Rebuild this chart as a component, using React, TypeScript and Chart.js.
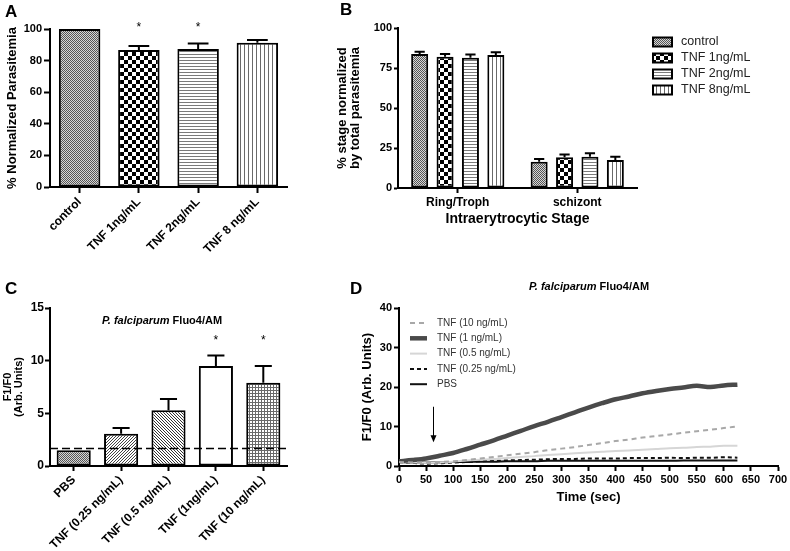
import React, { useEffect, useRef } from 'react';
import { Chart, registerables } from 'chart.js';

Chart.register(...registerables);

const FONT = "'Liberation Sans', Arial, Helvetica, sans-serif";
Chart.defaults.font.family = FONT;
const PAGE_W = 790;
const PAGE_H = 551;

// ---------- Panel A ----------
const parasitemiaCategories = ['control', 'TNF 1ng/mL', 'TNF 2ng/mL', 'TNF 8 ng/mL'];
const parasitemiaValues = [100, 86.7, 87.3, 91.3];
const parasitemiaErrors = [0, 2.5, 3.5, 1.7];
const parasitemiaStars = ['', '*', '*', ''];
const parasitemiaTicks = [0, 20, 40, 60, 80, 100];

// ---------- Panel B ----------
const stageCategories = ['Ring/Troph', 'schizont'];
const stageSeriesLabels = ['control', 'TNF 1ng/mL', 'TNF 2ng/mL', 'TNF 8ng/mL'];
const stageControl = [83.7, 16.4];
const stageTnf1 = [82.0, 19.2];
const stageTnf2 = [81.4, 19.6];
const stageTnf8 = [83.1, 17.5];
const stageControlErr = [1.5, 1.7];
const stageTnf1Err = [1.7, 1.8];
const stageTnf2Err = [2.1, 2.1];
const stageTnf8Err = [1.7, 2.1];
const stageTicks = [0, 25, 50, 75, 100];

// ---------- Panel C ----------
const fluoCategories = ['PBS', 'TNF (0.25 ng/mL)', 'TNF (0.5 ng/mL)', 'TNF (1ng/mL)', 'TNF (10 ng/mL)'];
const fluoValues = [1.5, 3.05, 5.3, 9.5, 7.9];
const fluoErrors = [0, 0.55, 1.05, 1.0, 1.6];
const fluoStars = ['', '', '', '*', '*'];
const fluoBaseline = 1.65;
const fluoTicks = [0, 5, 10, 15];

// ---------- Panel D ----------
const timeSec = [0, 25, 50, 75, 100, 125, 150, 175, 200, 225, 250, 275, 300, 325, 350, 375, 400, 425, 450, 475, 500, 525, 550, 575, 600, 625];
const traceTnf10 = [1.0, 0.9, 0.9, 1.0, 1.2, 1.5, 1.9, 2.3, 2.7, 3.1, 3.5, 4.0, 4.4, 4.8, 5.3, 5.8, 6.3, 6.7, 7.2, 7.6, 8.0, 8.4, 8.8, 9.2, 9.6, 10.0];
const traceTnf1 = [1.2, 1.5, 1.9, 2.6, 3.3, 4.3, 5.4, 6.5, 7.7, 8.9, 10.1, 11.2, 12.4, 13.6, 14.8, 15.9, 16.9, 17.6, 18.4, 19.0, 19.5, 19.9, 20.3, 20.0, 20.4, 20.6];
const traceTnf05 = [1.0, 0.9, 0.8, 0.9, 1.1, 1.4, 1.6, 1.8, 2.0, 2.3, 2.5, 2.8, 3.0, 3.2, 3.4, 3.6, 3.8, 3.9, 4.1, 4.3, 4.5, 4.6, 4.8, 4.9, 5.1, 5.1];
const traceTnf025 = [1.0, 0.8, 0.6, 0.7, 0.9, 1.0, 1.2, 1.3, 1.4, 1.5, 1.6, 1.7, 1.8, 1.8, 1.9, 1.9, 1.9, 2.0, 2.0, 2.0, 2.1, 2.0, 2.1, 2.1, 2.2, 2.1];
const tracePbs = [1.0, 0.9, 0.9, 0.9, 1.0, 1.0, 1.1, 1.1, 1.2, 1.2, 1.2, 1.3, 1.3, 1.3, 1.3, 1.3, 1.3, 1.3, 1.3, 1.3, 1.3, 1.4, 1.4, 1.4, 1.4, 1.4];
const traceLabels = ['TNF (10 ng/mL)', 'TNF (1 ng/mL)', 'TNF (0.5 ng/mL)', 'TNF (0.25 ng/mL)', 'PBS'];
const traceTicksY = [0, 10, 20, 30, 40];
const traceTicksX = [0, 50, 100, 150, 200, 250, 300, 350, 400, 450, 500, 550, 600, 650, 700];
const additionTime = 63;
const additionArrow = [15, 6];

// ---------- helpers ----------
function pattern(kind: string, size = 4): CanvasPattern {
  const c = document.createElement('canvas');
  const g = c.getContext('2d')!;
  const dot = (x: number, y: number, w = 1, h = 1) => g.fillRect(x, y, w, h);
  if (kind === 'fine') {
    c.width = 2; c.height = 2;
    g.fillStyle = '#d6d6d6'; g.fillRect(0, 0, 2, 2);
    g.fillStyle = '#555555'; dot(0, 0); dot(1, 1);
  } else if (kind === 'checker') {
    c.width = size * 2; c.height = size * 2;
    g.fillStyle = '#fff'; g.fillRect(0, 0, size * 2, size * 2);
    g.fillStyle = '#000'; dot(0, 0, size, size); dot(size, size, size, size);
  } else if (kind === 'hlines') {
    c.width = 1; c.height = size;
    g.fillStyle = '#fff'; g.fillRect(0, 0, 1, size);
    g.fillStyle = '#7a7a7a'; dot(0, 0);
  } else if (kind === 'vlines') {
    c.width = size; c.height = 1;
    g.fillStyle = '#fff'; g.fillRect(0, 0, size, 1);
    g.fillStyle = '#6a6a6a'; dot(0, 0);
  } else if (kind === 'diagUp') {
    c.width = size; c.height = size;
    g.fillStyle = '#fff'; g.fillRect(0, 0, size, size);
    g.fillStyle = '#444';
    for (let i = 0; i < size; i++) dot(i, size - 1 - i);
  } else if (kind === 'diagDown') {
    c.width = size; c.height = size;
    g.fillStyle = '#fff'; g.fillRect(0, 0, size, size);
    g.fillStyle = '#333';
    for (let i = 0; i < size; i++) dot(i, i);
  } else if (kind === 'grid') {
    c.width = size; c.height = size;
    g.fillStyle = '#fff'; g.fillRect(0, 0, size, size);
    g.fillStyle = '#6a6a6a'; dot(0, 0, size, 1); dot(0, 0, 1, size);
  } else {
    c.width = 1; c.height = 1;
    g.fillStyle = '#fff'; g.fillRect(0, 0, 1, 1);
  }
  return g.createPattern(c, 'repeat')!;
}

const fixedX = (height: number) => (s: any) => {
  s.height = height; s.paddingLeft = 0; s.paddingRight = 0; s.paddingTop = 0; s.paddingBottom = 0;
};
const fixedY = (width: number) => (s: any) => {
  s.width = width; s.paddingLeft = 0; s.paddingRight = 0; s.paddingTop = 0; s.paddingBottom = 0;
};
const setTicks = (values: number[]) => (s: any) => {
  s.ticks = values.map((v) => ({ value: v }));
};

function axisStyle(fontSize: number, tickLength: number, padding: number) {
  return {
    border: { display: true, color: '#000', width: 2 },
    grid: { display: true, drawOnChartArea: false, drawTicks: true, tickLength, tickWidth: 2, tickColor: '#000', color: '#000', offset: false },
    ticks: { color: '#000', font: { family: FONT, size: fontSize, weight: 'bold' as const }, padding, autoSkip: false },
  };
}

const errorBarsPlugin = (capRatio: number) => ({
  id: 'errorBars',
  afterDatasetsDraw(chart: any) {
    const ctx = chart.ctx;
    const yScale = chart.scales.y;
    chart.data.datasets.forEach((ds: any, i: number) => {
      if (!ds.errors) return;
      const meta = chart.getDatasetMeta(i);
      meta.data.forEach((el: any, j: number) => {
        const err = ds.errors[j];
        if (!err) return;
        const v = ds.data[j];
        const yTop = yScale.getPixelForValue(v + err);
        const half = el.width * capRatio;
        ctx.save();
        ctx.strokeStyle = '#000';
        ctx.lineWidth = 2;
        ctx.beginPath();
        ctx.moveTo(el.x, el.y);
        ctx.lineTo(el.x, yTop);
        ctx.moveTo(el.x - half, yTop);
        ctx.lineTo(el.x + half, yTop);
        ctx.stroke();
        ctx.restore();
      });
    });
  },
});

const starsPlugin = (value: number, fontSize: number) => ({
  id: 'stars',
  afterDatasetsDraw(chart: any) {
    const ctx = chart.ctx;
    const y = chart.scales.y.getPixelForValue(value);
    chart.data.datasets.forEach((ds: any, i: number) => {
      if (!ds.stars) return;
      const meta = chart.getDatasetMeta(i);
      meta.data.forEach((el: any, j: number) => {
        const s = ds.stars[j];
        if (!s) return;
        ctx.save();
        ctx.fillStyle = '#000';
        ctx.font = `${fontSize}px ${FONT}`;
        ctx.textAlign = 'center';
        ctx.textBaseline = 'alphabetic';
        ctx.fillText(s, el.x, y + fontSize * 0.55);
        ctx.restore();
      });
    });
  },
});

const refLinePlugin = (value: number) => ({
  id: 'refLine',
  afterDatasetsDraw(chart: any) {
    const ctx = chart.ctx;
    const y = chart.scales.y.getPixelForValue(value);
    const { left, right } = chart.chartArea;
    ctx.save();
    ctx.strokeStyle = '#000';
    ctx.lineWidth = 1.5;
    ctx.setLineDash([8, 4]);
    ctx.beginPath();
    ctx.moveTo(left, y);
    ctx.lineTo(right, y);
    ctx.stroke();
    ctx.restore();
  },
});

const titlePlugin = (parts: { text: string; font: string }[], cx: number, cy: number) => ({
  id: 'mixedTitle',
  afterDraw(chart: any) {
    const ctx = chart.ctx;
    ctx.save();
    ctx.fillStyle = '#000';
    ctx.textBaseline = 'middle';
    ctx.textAlign = 'left';
    const widths = parts.map((p) => { ctx.font = p.font; return ctx.measureText(p.text).width; });
    let x = cx - widths.reduce((a, b) => a + b, 0) / 2;
    parts.forEach((p, i) => { ctx.font = p.font; ctx.fillText(p.text, x, cy); x += widths[i]; });
    ctx.restore();
  },
});

const boxLegendPlugin = (x: number, y0: number, dy: number, textX: number) => ({
  id: 'boxLegend',
  afterDraw(chart: any) {
    const ctx = chart.ctx;
    chart.data.datasets.forEach((ds: any, i: number) => {
      const y = y0 + i * dy;
      ctx.save();
      ctx.fillStyle = ds.backgroundColor;
      ctx.fillRect(x, y - 4.5, 19, 9);
      ctx.strokeStyle = '#000';
      ctx.lineWidth = 2;
      ctx.strokeRect(x, y - 4.5, 19, 9);
      ctx.fillStyle = '#222';
      ctx.font = `12.5px ${FONT}`;
      ctx.textBaseline = 'middle';
      ctx.fillText(ds.label, textX, y);
      ctx.restore();
    });
  },
});

const lineLegendPlugin = (x: number, len: number, y0: number, dy: number, textX: number) => ({
  id: 'lineLegend',
  afterDraw(chart: any) {
    const ctx = chart.ctx;
    chart.data.datasets.forEach((ds: any, i: number) => {
      const y = y0 + i * dy;
      ctx.save();
      ctx.strokeStyle = ds.borderColor;
      ctx.lineWidth = ds.borderWidth;
      ctx.setLineDash(ds.borderDash || []);
      ctx.beginPath();
      ctx.moveTo(x, y);
      ctx.lineTo(x + len, y);
      ctx.stroke();
      ctx.setLineDash([]);
      ctx.fillStyle = '#333';
      ctx.font = `10px ${FONT}`;
      ctx.textBaseline = 'middle';
      ctx.fillText(ds.label, textX, y);
      ctx.restore();
    });
  },
});

const arrowPlugin = (xVal: number, fromVal: number, toVal: number) => ({
  id: 'arrow',
  afterDatasetsDraw(chart: any) {
    const ctx = chart.ctx;
    const x = Math.round(chart.scales.x.getPixelForValue(xVal)) + 0.5;
    const y1 = chart.scales.y.getPixelForValue(fromVal);
    const y2 = chart.scales.y.getPixelForValue(toVal);
    ctx.save();
    ctx.strokeStyle = '#000';
    ctx.fillStyle = '#000';
    ctx.lineWidth = 1;
    ctx.beginPath();
    ctx.moveTo(x, y1);
    ctx.lineTo(x, y2 - 5);
    ctx.stroke();
    ctx.beginPath();
    ctx.moveTo(x - 3, y2 - 7);
    ctx.lineTo(x + 3, y2 - 7);
    ctx.lineTo(x, y2);
    ctx.closePath();
    ctx.fill();
    ctx.restore();
  },
});

const baseOptions = (padding: any) => ({
  responsive: false,
  animation: false as const,
  events: [] as any[],
  layout: { padding },
  plugins: { legend: { display: false }, tooltip: { enabled: false }, title: { display: false } },
});

export default function App() {
  const refA = useRef<HTMLCanvasElement>(null);
  const refB = useRef<HTMLCanvasElement>(null);
  const refC = useRef<HTMLCanvasElement>(null);
  const refD = useRef<HTMLCanvasElement>(null);

  useEffect(() => {
    const charts: Chart[] = [];

    // Panel A
    charts.push(new Chart(refA.current!, {
      type: 'bar',
      data: {
        labels: parasitemiaCategories,
        datasets: [{
          data: parasitemiaValues,
          errors: parasitemiaErrors,
          stars: parasitemiaStars,
          backgroundColor: [pattern('fine'), pattern('checker', 4), pattern('hlines', 3), pattern('vlines', 4)],
          borderColor: '#000',
          borderWidth: 2,
          borderSkipped: false,
          barPercentage: 0.7,
          categoryPercentage: 1,
        } as any],
      },
      options: {
        ...baseOptions({ left: 5, top: 29, right: PAGE_W - 287, bottom: PAGE_H - 187 - 70 }),
        scales: {
          x: {
            ...axisStyle(12, 6, 2),
            ticks: { ...axisStyle(12, 6, 2).ticks, maxRotation: 45, minRotation: 45 },
            afterFit: fixedX(70),
          },
          y: {
            ...axisStyle(11, 6, 2),
            min: 0, max: 100,
            afterBuildTicks: setTicks(parasitemiaTicks),
            afterFit: fixedY(45),
            title: { display: true, text: '% Normalized Parasitemia', color: '#000', padding: 0, font: { family: FONT, size: 13, weight: 'bold' } },
          },
        },
      } as any,
      plugins: [errorBarsPlugin(0.25), starsPlugin(103, 12)],
    }));

    // Panel B
    const stageData = [stageControl, stageTnf1, stageTnf2, stageTnf8];
    const stageErr = [stageControlErr, stageTnf1Err, stageTnf2Err, stageTnf8Err];
    const stagePatterns = [pattern('fine'), pattern('checker', 4), pattern('hlines', 3), pattern('vlines', 4)];
    charts.push(new Chart(refB.current!, {
      type: 'bar',
      data: {
        labels: stageCategories,
        datasets: stageSeriesLabels.map((label, i) => ({
          label,
          data: stageData[i],
          errors: stageErr[i],
          backgroundColor: stagePatterns[i],
          borderColor: '#000',
          borderWidth: 2,
          borderSkipped: false,
          barPercentage: 0.67,
          categoryPercentage: 0.85,
        })) as any,
      },
      options: {
        ...baseOptions({ left: 336, top: 28, right: PAGE_W - 637, bottom: PAGE_H - 188 - 40 }),
        scales: {
          x: {
            ...axisStyle(12, 5, 2),
            afterFit: fixedX(40),
            title: { display: true, text: 'Intraerytrocytic Stage', color: '#000', padding: 0, font: { family: FONT, size: 14, weight: 'bold' } },
          },
          y: {
            ...axisStyle(11, 4, 2),
            min: 0, max: 100,
            afterBuildTicks: setTicks(stageTicks),
            afterFit: fixedY(62),
            title: { display: true, text: ['% stage normalized', 'by total parasitemia'], color: '#000', padding: 0, font: { family: FONT, size: 13, weight: 'bold', lineHeight: 1.0 } },
          },
        },
      } as any,
      plugins: [errorBarsPlugin(0.3), boxLegendPlugin(653, 42, 16, 681)],
    }));

    // Panel C
    charts.push(new Chart(refC.current!, {
      type: 'bar',
      data: {
        labels: fluoCategories,
        datasets: [{
          data: fluoValues,
          errors: fluoErrors,
          stars: fluoStars,
          backgroundColor: [pattern('fine'), pattern('diagUp', 3), pattern('diagDown', 3), pattern('none'), pattern('grid', 3)],
          borderColor: '#000',
          borderWidth: 2,
          borderSkipped: false,
          barPercentage: 0.72,
          categoryPercentage: 1,
        } as any],
      },
      options: {
        ...baseOptions({ left: 2, top: 308, right: PAGE_W - 287, bottom: 0 }),
        scales: {
          x: {
            ...axisStyle(12, 5, 2),
            ticks: { ...axisStyle(12, 5, 2).ticks, maxRotation: 45, minRotation: 45 },
            afterFit: fixedX(PAGE_H - 466),
          },
          y: {
            ...axisStyle(12, 5, 1),
            min: 0, max: 15,
            afterBuildTicks: setTicks(fluoTicks),
            afterFit: fixedY(48),
            title: { display: true, text: ['F1/F0', '(Arb. Units)'], color: '#000', padding: 0, font: { family: FONT, size: 11, weight: 'bold', lineHeight: 1.0 } },
          },
        },
      } as any,
      plugins: [
        errorBarsPlugin(0.25),
        starsPlugin(12.2, 12),
        refLinePlugin(fluoBaseline),
        titlePlugin([
          { text: 'P. falciparum', font: `italic bold 11px ${FONT}` },
          { text: ' Fluo4/AM', font: `bold 11px ${FONT}` },
        ], 162, 321),
      ],
    }));

    // Panel D
    const traces = [traceTnf10, traceTnf1, traceTnf05, traceTnf025, tracePbs];
    const traceStyles = [
      { borderColor: '#a8a8a8', borderWidth: 2, borderDash: [5, 4] },
      { borderColor: '#4a4a4a', borderWidth: 4.5, borderDash: [] },
      { borderColor: '#d6d6d6', borderWidth: 2, borderDash: [] },
      { borderColor: '#111', borderWidth: 2, borderDash: [4, 3] },
      { borderColor: '#111', borderWidth: 2, borderDash: [] },
    ];
    charts.push(new Chart(refD.current!, {
      type: 'line',
      data: {
        datasets: traceLabels.map((label, i) => ({
          label,
          data: timeSec.map((t, k) => ({ x: t, y: traces[i][k] })),
          ...traceStyles[i],
          pointRadius: 0,
          fill: false,
          cubicInterpolationMode: 'monotone',
        })) as any,
      },
      options: {
        ...baseOptions({ left: 360, top: 308, right: PAGE_W - 778, bottom: PAGE_H - 466 - 39 }),
        scales: {
          x: {
            type: 'linear',
            ...axisStyle(11, 5, 2),
            min: 0, max: 700,
            afterBuildTicks: setTicks(traceTicksX),
            afterFit: fixedX(39),
            title: { display: true, text: 'Time (sec)', color: '#000', padding: 0, font: { family: FONT, size: 13, weight: 'bold' } },
          },
          y: {
            ...axisStyle(11, 5, 2),
            min: 0, max: 40,
            afterBuildTicks: setTicks(traceTicksY),
            afterFit: fixedY(39),
            title: { display: true, text: 'F1/F0 (Arb. Units)', color: '#000', padding: 0, font: { family: FONT, size: 13, weight: 'bold' } },
          },
        },
      } as any,
      plugins: [
        arrowPlugin(additionTime, additionArrow[0], additionArrow[1]),
        lineLegendPlugin(410, 17, 323, 15.3, 437),
        titlePlugin([
          { text: 'P. falciparum', font: `italic bold 11px ${FONT}` },
          { text: ' Fluo4/AM', font: `bold 11px ${FONT}` },
        ], 589, 287),
      ],
    }));

    return () => { charts.forEach((c) => c.destroy()); };
  }, []);

  const canvasStyle: React.CSSProperties = { position: 'absolute', left: 0, top: 0, width: PAGE_W, height: PAGE_H };
  const letter = (t: string, left: number, top: number) => (
    <div style={{ position: 'absolute', left, top, font: `bold 17px ${FONT}`, lineHeight: '17px', color: '#000' }}>{t}</div>
  );

  return (
    <div style={{ position: 'absolute', left: 0, top: 0, width: PAGE_W, height: PAGE_H, background: '#fff', overflow: 'hidden' }}>
      <canvas ref={refA} width={PAGE_W} height={PAGE_H} style={canvasStyle} />
      <canvas ref={refB} width={PAGE_W} height={PAGE_H} style={canvasStyle} />
      <canvas ref={refC} width={PAGE_W} height={PAGE_H} style={canvasStyle} />
      <canvas ref={refD} width={PAGE_W} height={PAGE_H} style={canvasStyle} />
      {letter('A', 5, 3)}
      {letter('B', 340, 1)}
      {letter('C', 5, 280)}
      {letter('D', 350, 280)}
    </div>
  );
}
